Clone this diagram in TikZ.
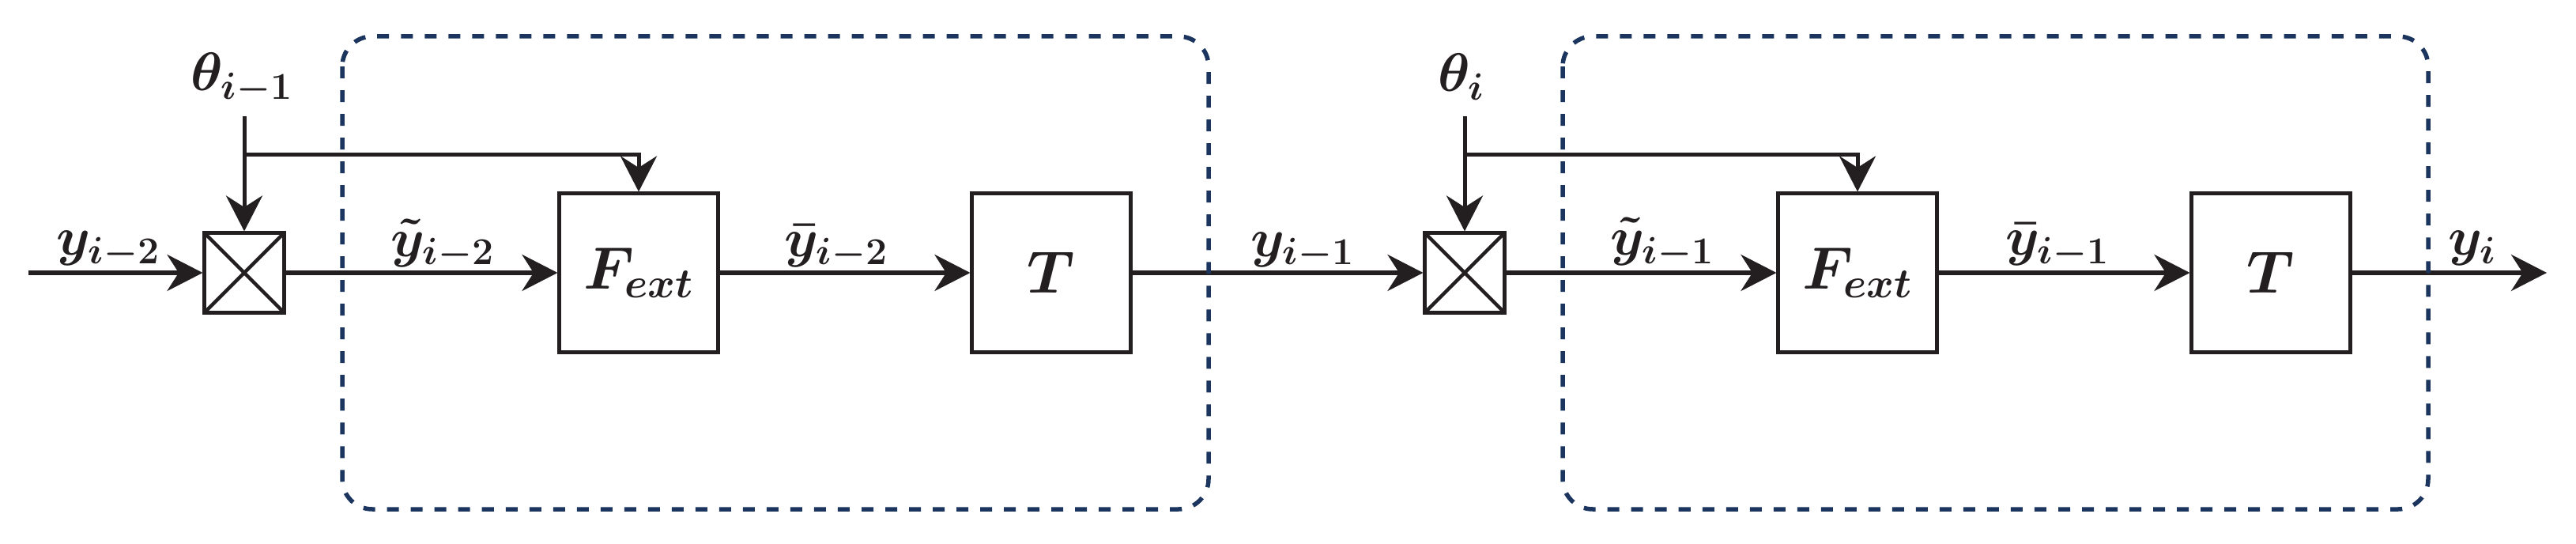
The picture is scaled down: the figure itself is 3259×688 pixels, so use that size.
\RequirePackage{fix-cm}
\documentclass[tikz,border=0pt]{standalone}
\usetikzlibrary{arrows.meta}
\definecolor{linec}{RGB}{35,31,32}
\definecolor{dashc}{RGB}{28,53,94}
\newcommand{\labfont}{\fontsize{19.5}{24}\selectfont\boldmath}
\newcommand{\boxfont}{\fontsize{21.5}{27}\selectfont\boldmath}
\begin{document}
\begin{tikzpicture}[x=0.01cm,y=-0.01cm,
  blk/.style={draw=linec, line width=0.05cm, minimum size=2cm, inner sep=0pt, font=\boxfont, text=linec},
  mult/.style={draw=linec, line width=0.05cm, minimum size=1cm, inner sep=0pt,
    path picture={\draw[linec, line width=0.045cm]
      (path picture bounding box.north west) -- (path picture bounding box.south east)
      (path picture bounding box.north east) -- (path picture bounding box.south west);}},
  conn/.style={draw=linec, line width=0.05cm, -{Stealth[length=0.45cm, width=0.46cm]}},
  plain/.style={draw=linec, line width=0.05cm},
  lab/.style={font=\labfont, text=linec, inner sep=0pt, anchor=base},
  group/.style={draw=dashc, line width=0.055cm, dash pattern=on 0.15cm off 0.15cm, rounded corners=0.38cm}
]
\useasboundingbox (0,0) rectangle (3259,688);

% blocks
\node[mult] (m1) at (309,345) {};
\node[blk] (f1) at (808,345) {$F_{ext}$};
\node[blk] (t1) at (1330,345) {$T$};
\node[mult] (m2) at (1853,345) {};
\node[blk] (f2) at (2350,345) {$F_{ext}$};
\node[blk] (t2) at (2873,345) {$T$};

\coordinate (in) at (36,345);
\coordinate (out) at (3222,345);
\coordinate (th1s) at (309,147);
\coordinate (b1) at (309,196);
\coordinate (th2s) at (1853,147);
\coordinate (b2) at (1853,196);

% labels
\node[lab] (ly0) at (137,323) {$y_{i-2}$};
\node[lab] (lth1) at (306,115) {$\theta_{i-1}$};
\node[lab] (lyt0) at (560,324) {$\tilde{y}_{i-2}$};
\node[lab] (lyb0) at (1058,324) {$\bar{y}_{i-2}$};
\node[lab] (ly1) at (1648,324) {$y_{i-1}$};
\node[lab] (lth2) at (1849,116) {$\theta_{i}$};
\node[lab] (lyt1) at (2103,323) {$\tilde{y}_{i-1}$};
\node[lab] (lyb1) at (2603,323) {$\bar{y}_{i-1}$};
\node[lab] (ly2) at (3128,323) {$y_{i}$};

% connectors
\draw[conn] (in) -- (m1);
\draw[conn] (m1) -- (f1);
\draw[conn] (f1) -- (t1);
\draw[conn] (t1) -- (m2);
\draw[conn] (m2) -- (f2);
\draw[conn] (f2) -- (t2);
\draw[conn] (t2) -- (out);
\draw[conn] (th1s) -- (m1.north);
\draw[conn] (b1) -| (f1.north);
\draw[conn] (th2s) -- (m2.north);
\draw[conn] (b2) -| (f2.north);

% groups
\draw[group] (433,46) rectangle (1529,644);
\draw[group] (1977,46) rectangle (3072,644);
\end{tikzpicture}
\end{document}
